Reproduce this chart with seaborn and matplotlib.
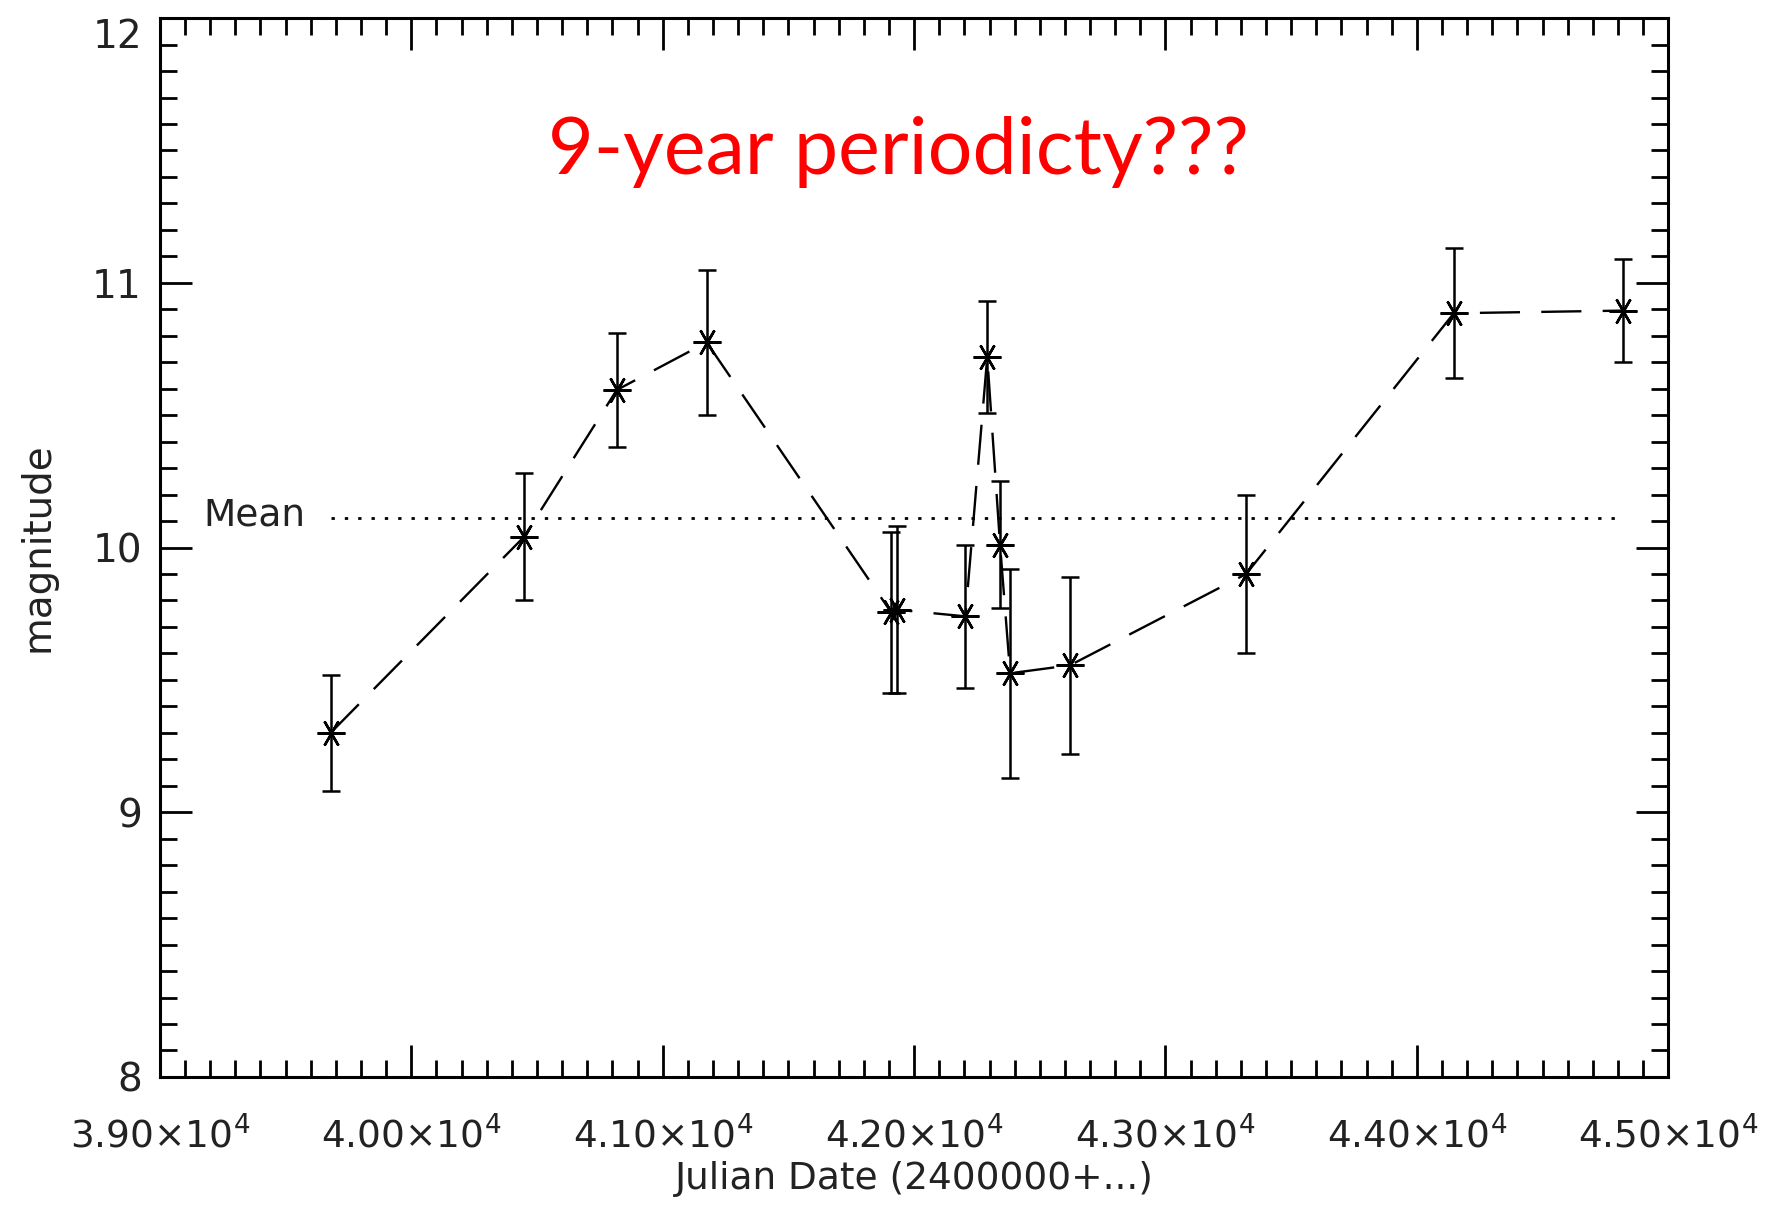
import numpy as np
import pandas as pd
import matplotlib
matplotlib.use("Agg")
import matplotlib.pyplot as plt
import seaborn as sns
from matplotlib.ticker import FixedLocator, FixedFormatter, MultipleLocator

# ---- data ----
julian_date = [39679, 40448, 40817, 41175, 41909, 41933, 42204,
               42291, 42342, 42382, 42620, 43321, 44147, 44821]
magnitude = [9.30, 10.04, 10.595, 10.775, 9.755, 9.765, 9.74,
             10.72, 10.01, 9.525, 9.555, 9.90, 10.885, 10.895]
mag_error = [0.22, 0.24, 0.215, 0.275, 0.305, 0.315, 0.27,
             0.21, 0.24, 0.395, 0.335, 0.30, 0.245, 0.195]
mean_level = 10.11

x_ticks = [39000, 40000, 41000, 42000, 43000, 44000, 45000]
x_tick_labels = [r"$3.90{\times}10^{4}$", r"$4.00{\times}10^{4}$",
                 r"$4.10{\times}10^{4}$", r"$4.20{\times}10^{4}$",
                 r"$4.30{\times}10^{4}$", r"$4.40{\times}10^{4}$",
                 r"$4.50{\times}10^{4}$"]
y_ticks = [8, 9, 10, 11, 12]
y_tick_labels = ["8", "9", "10", "11", "12"]

title_text = "9-year periodicty???"
x_label = "Julian Date (2400000+...)"
y_label = "magnitude"
mean_label = "Mean"

df = pd.DataFrame({"jd": julian_date, "mag": magnitude, "err": mag_error})

sns.set_theme(style="ticks")
plt.rcParams["font.family"] = ["DejaVu Sans"]
plt.rcParams["mathtext.fontset"] = "dejavusans"

fig = plt.figure(figsize=(17.85, 12.06), dpi=100)
fig.patch.set_facecolor("white")
ax = fig.add_axes([0.0896, 0.107, 0.845, 0.878])
ax.set_facecolor("white")

# error bars
ax.errorbar(df["jd"], df["mag"], yerr=df["err"], fmt="none", ecolor="black",
            elinewidth=1.8, capsize=6.5, capthick=1.8, zorder=3)

# dashed line with asterisk markers
sns.lineplot(data=df, x="jd", y="mag", ax=ax, color="black",
             linestyle=(0, (17, 9)), linewidth=1.7,
             marker=(6, 2, 90), markersize=20, markeredgecolor="black",
             markeredgewidth=1.8, sort=False, estimator=None, zorder=4)

# mean level
ax.hlines(mean_level, julian_date[0], julian_date[-1], colors="black",
          linestyles=(0, (1.2, 3.6)), linewidth=2.0, zorder=2)
ax.annotate(mean_label, xy=(julian_date[0], mean_level), xytext=(-18, 2),
            textcoords="offset points", ha="right", va="center",
            fontsize=27, color="#222222")

ax.set_xlim(39000, 45000)
ax.set_ylim(8, 12)
ax.xaxis.set_major_locator(FixedLocator(x_ticks))
ax.xaxis.set_major_formatter(FixedFormatter(x_tick_labels))
ax.xaxis.set_minor_locator(MultipleLocator(100))
ax.yaxis.set_major_locator(FixedLocator(y_ticks))
ax.yaxis.set_major_formatter(FixedFormatter(y_tick_labels))
ax.yaxis.set_minor_locator(MultipleLocator(0.1))

ax.tick_params(which="both", direction="in", top=True, right=True,
               color="black", width=2.0, labelcolor="#222222")
ax.tick_params(which="major", length=23)
ax.tick_params(which="minor", length=12)
ax.tick_params(axis="x", which="major", labelsize=27, pad=28)
ax.tick_params(axis="y", which="major", labelsize=28, pad=13)
for sp in ax.spines.values():
    sp.set_visible(True)
    sp.set_color("black")
    sp.set_linewidth(2.2)

ax.set_xlabel(x_label, fontsize=27, color="#222222", labelpad=4)
ax.set_ylabel(y_label, fontsize=28, color="#222222", labelpad=26)
ax.grid(False)

# red annotation, sized to span ~700 px
t = ax.text(41937, 11.41, title_text, ha="center", va="baseline",
            color="#FF0000", fontsize=50, family=["Lato", "DejaVu Sans"])
fig.canvas.draw()
w = t.get_window_extent(renderer=fig.canvas.get_renderer()).width
t.set_fontsize(50 * 700.0 / w)

# top y label sits just below the frame corner, as in the reference
ax.yaxis.get_major_ticks()[-1].label1.set_verticalalignment("top")

fig.savefig("out.png", dpi=100, facecolor="white")
